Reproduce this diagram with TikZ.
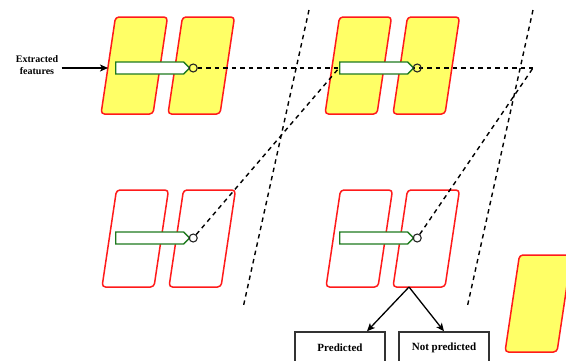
\documentclass[tikz,border=0pt]{standalone}
\usepackage{fontspec}
\setmainfont{Liberation Serif}
\usetikzlibrary{arrows,arrows.meta,positioning,shapes.symbols,backgrounds}
\definecolor{cellyellow}{HTML}{FFFF66}
\definecolor{cellred}{HTML}{FF1A1A}
\definecolor{bargreen}{HTML}{1E7A1E}
\tikzset{>={Stealth[length=8pt,width=7pt,inset=2pt]}}

% slanted unit cell, (#2,#3) = lower left corner
\newcommand{\unitcell}[4]{%
  \draw[cellline,#4] (#2,#3) coordinate (#1) -- ++(14.5,-97) -- ++(52,0) -- ++(-14.5,97) -- cycle;}

\begin{document}
\begin{tikzpicture}[x=1pt, y=-1pt]
        \tikzstyle{cellline}=[draw=cellred, line width=1.5pt, rounded corners=3.5pt]
        \tikzstyle{filled}=[fill=cellyellow]
        \tikzstyle{bar}=[signal, signal to=east, draw=bargreen, fill=white, line width=1.4pt, minimum width=74pt, minimum height=12pt, inner sep=0pt, anchor=west]
        \tikzstyle{port}=[circle, draw=black!85, line width=1.1pt, minimum size=8pt, inner sep=0pt]
        \tikzstyle{link}=[black, line width=1.4pt, dash pattern=on 4.5pt off 4pt]
        \tikzstyle{flow}=[->, black, line width=1.3pt]
        \tikzstyle{outbox}=[rectangle, draw=black!80, line width=1.5pt, minimum width=90pt, minimum height=32pt, font=\bfseries\fontsize{11}{13}\selectfont]
        \useasboundingbox (0,0) rectangle (566,360);
        \clip (0,0) rectangle (566,360);

        % input text
        \node[align=center, font=\bfseries\fontsize{10}{12}\selectfont] (feat) at (37,65) {Extracted\\features};

        % vectors passed along the rows
        \node[bar] (barA) at (115,68) {};
        \node[port] (pa) [right=-2pt of barA] {};
        \node[bar] (barB) at (339,68) {};
        \node[port] (pb) [right=-2pt of barB] {};
        \node[bar] (barC) at (115,238) {};
        \node[port] (pc) [right=-2pt of barC] {};
        \node[bar] (barD) at (339,238) {};
        \node[port] (pd) [right=-2pt of barD] {};

        \coordinate (rowend) at (533,68);
        \coordinate (sepA1) at (309,10);
        \coordinate (sepA2) at (243,308);
        \coordinate (sepB1) at (533,10);
        \coordinate (sepB2) at (467,308);
        \coordinate (split) at (409,287);

        \begin{pgfonlayer}{background}
                % cells
                \unitcell{c1}{101}{114}{filled}
                \unitcell{c2}{168}{114}{filled}
                \unitcell{c3}{325}{114}{filled}
                \unitcell{c4}{393}{114}{filled}
                \unitcell{c5}{102}{287}{}
                \unitcell{c6}{169}{287}{}
                \unitcell{c7}{326}{287}{}
                \unitcell{c8}{393}{287}{}
                \unitcell{c9}{505}{352}{filled}

                % dashed connections
                \draw[link] (pa) -- (rowend);
                \draw[link] (pc) -- (barB.west);
                \draw[link] (pd) -- (rowend);
                \draw[link] (sepA1) -- (sepA2);
                \draw[link] (sepB1) -- (sepB2);
        \end{pgfonlayer}

        \draw[flow] (feat.east |- barA.west) -- ([xshift=-7pt]barA.west);

        % outputs
        \node[outbox] (pred) at (340,348) {Predicted};
        \node[outbox] (npred) at (444,348) {Not predicted};
        \draw[flow] (split) -- ([xshift=27pt]pred.north);
        \draw[flow] (split) -- (npred.north);
\end{tikzpicture}
\end{document}
